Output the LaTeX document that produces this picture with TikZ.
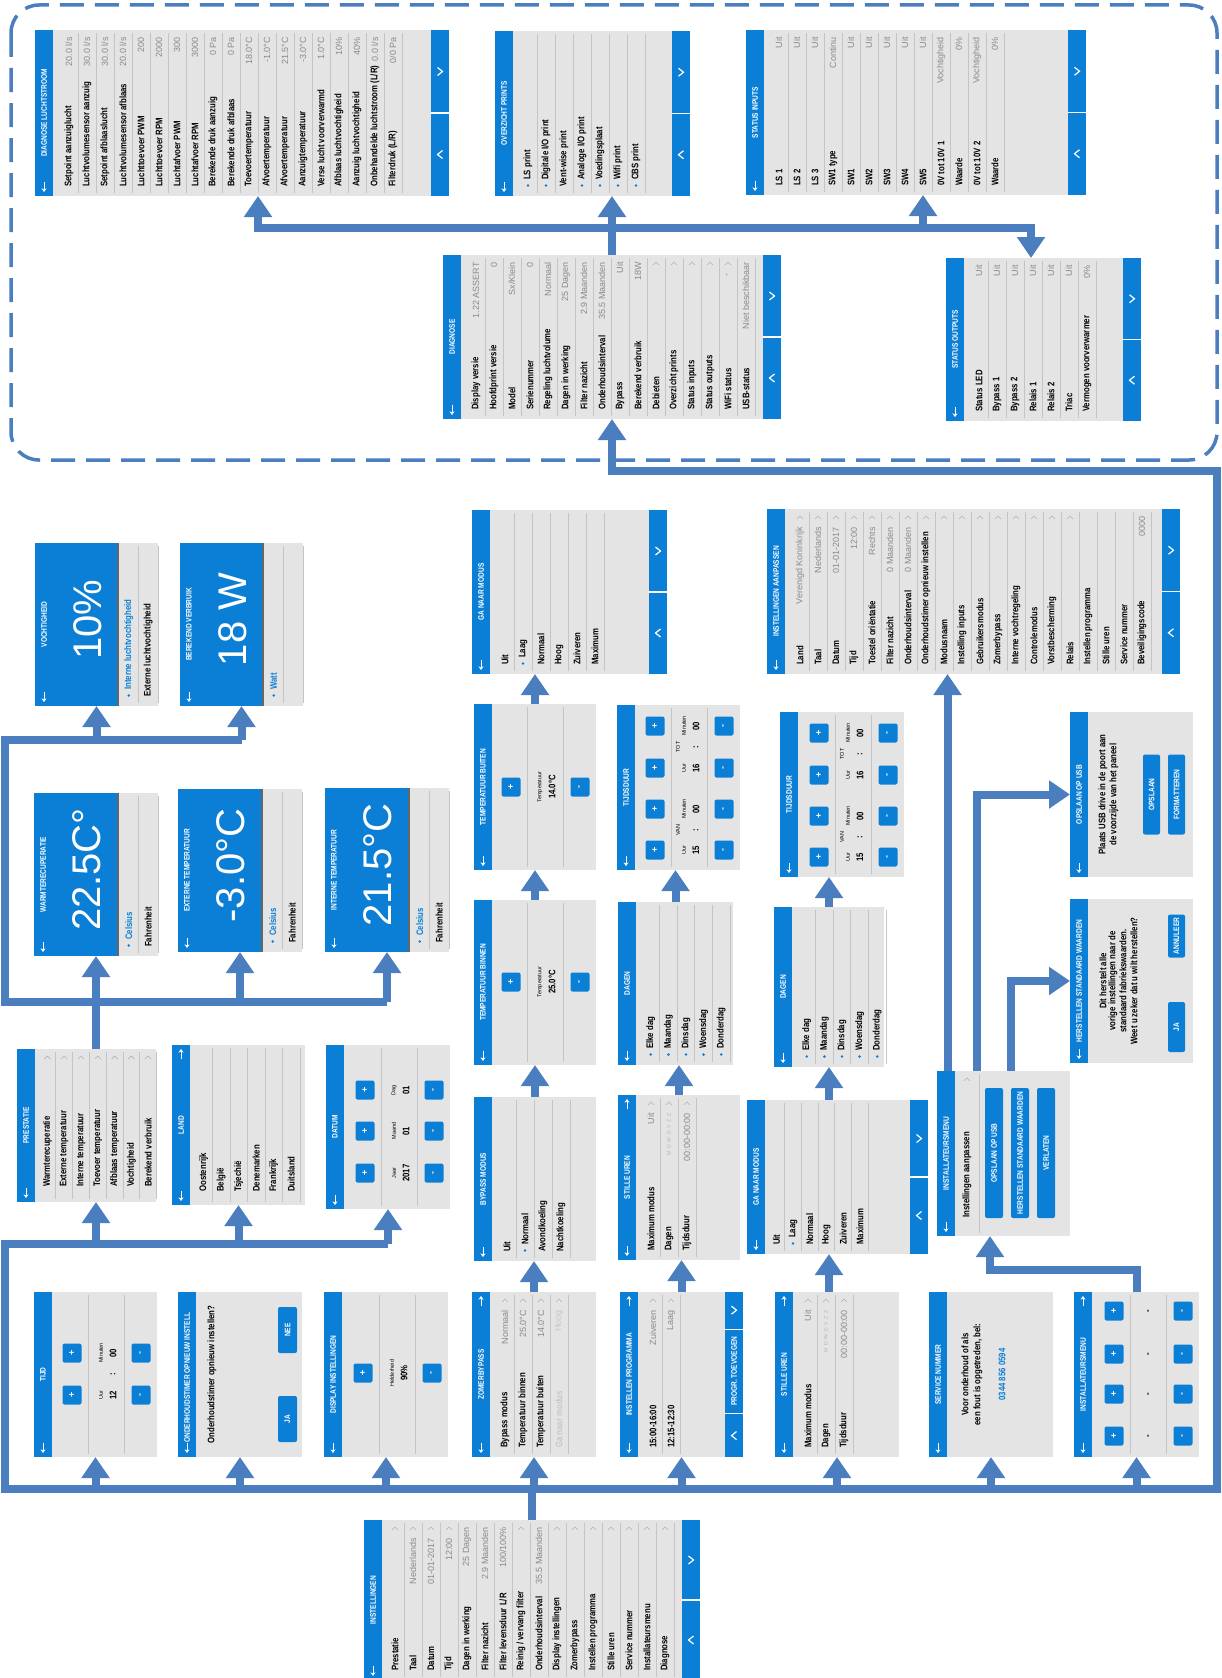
\documentclass[tikz,border=0pt]{standalone}
\usepackage{fontspec}
\setmainfont{Liberation Sans}
\newfontfamily\condfont{Liberation Sans}[FakeStretch=0.82]
\usetikzlibrary{arrows.meta}

\definecolor{scrblue}{HTML}{0B7FD5}
\definecolor{scrgrey}{HTML}{E4E4E4}
\definecolor{sepgrey}{HTML}{C4C4C4}
\definecolor{valgrey}{HTML}{8A8A8A}
\definecolor{linkblue}{HTML}{4A7EBF}

\tikzset{
  big/.tip={Triangle[width=27pt,length=21pt]},
  panel/.style={fill=scrgrey, inner sep=0pt, outer sep=0pt, anchor=north west},
  screen/.style={shift={(#1.south east)}, rotate=90, transform shape},
  ttl/.style={text=white, inner sep=0pt, font=\condfont\bfseries\fontsize{8}{9}\selectfont},
  lbl/.style={anchor=west, inner sep=0pt, font=\condfont\bfseries\fontsize{9.5}{10}\selectfont},
  val/.style={anchor=east, inner sep=0pt, text=valgrey, font=\fontsize{9}{10}\selectfont},
  chev/.style={draw=black!30, line width=0.6pt},
  small/.style={inner sep=0pt, font=\fontsize{5.5}{6}\selectfont},
  fig/.style={inner sep=0pt, font=\condfont\bfseries\fontsize{9.5}{10}\selectfont},
  msg/.style={inner sep=0pt, font=\condfont\bfseries\fontsize{9.5}{10}\selectfont},
  btn/.style={fill=scrblue, rounded corners=2pt, text=white, inner sep=0pt,
    minimum height=17pt, font=\condfont\bfseries\fontsize{8}{9}\selectfont},
  sq/.style={btn, minimum size=19pt, font=\bfseries\fontsize{9}{9}\selectfont},
  link/.style={draw=linkblue, line width=8pt},
  go/.style={link, -big},
}

\newcommand\labx{9}
\newcommand\dagletters{{\color{black!30}\fontsize{5}{5}\selectfont M\ \ D\ \ W\ \ D\ \ V\ \ Z\ \ Z}}
% one screen: name, left, top, right, bottom (pixels of the sheet)
\newcommand\screenat[5]{%
  \node[panel, minimum width=#4pt-#2pt, minimum height=#5pt-#3pt] (#1) at (#2,-#3) {};
  \pgfmathsetmacro\sL{#5-#3}\pgfmathsetmacro\sT{#4-#2}}
\newcommand\scrback[1]{\draw[white, line width=1pt, -{Stealth[length=3.6pt,width=5pt]}] (14,#1) -- (4,#1);}
\newcommand\scrfwd[1]{\draw[white, line width=1pt, -{Stealth[length=3.6pt,width=5pt]}] (\sL-14,#1) -- (\sL-4,#1);}
\newcommand\scrhead[2]{%
  \fill[scrblue] (0,\sT-18) rectangle (\sL,\sT);
  \node[ttl] at (\sL/2,\sT-9) {#1};
  \scrback{\sT-9}\ifnum#2=1 \scrfwd{\sT-9}\fi}
\newcommand\scrnav{%
  \fill[scrblue] (0,0) rectangle (\sL,18);
  \draw[white, line width=1.2pt] (\sL/2,0) -- (\sL/2,18);
  \draw[white, line width=1.2pt] (0.75*\sL-4,11.5) -- (0.75*\sL,6.5) -- (0.75*\sL+4,11.5)
    (0.25*\sL-4,6.5) -- (0.25*\sL,11.5) -- (0.25*\sL+4,6.5);}
\newcommand\scrbig[2]{%
  \fill[scrblue] (0,41) rectangle (\sL,\sT);
  \fill[black!60] (0,39) rectangle (\sL,41);
  \node[ttl] at (\sL/2,\sT-9) {#1};
  \scrback{\sT-9}
  \node[text=white, inner sep=0pt, font=\fontsize{40}{40}\selectfont] at (\sL/2+5,\sT-53) {#2};}
% rows: offset of first row, pitch, {label/value/flag}; flag 1 chevron, 2 dot, 4 dot+blue, 5 greyed
\newcommand\scrrows[3]{%
  \foreach \rl/\rv/\rf [count=\ri from 0] in {#3}{%
    \pgfmathsetmacro\rc{\sT-(#1)-(\ri+0.5)*(#2)}%
    \pgfmathsetmacro\rs{\rc-(#2)/2}%
    \def\rcol{black}\def\vcol{valgrey}%
    \ifnum\rf=4 \def\rcol{scrblue}\fi
    \ifnum\rf=5 \def\rcol{black!22}\def\vcol{black!22}\fi
    \draw[sepgrey, line width=0.8pt] (3,\rs) -- (\sL-3,\rs);
    \ifnum\rf>1 \ifnum\rf<5 \fill[scrblue] (\labx+1.5,\rc) circle (1.4pt);\fi\fi
    \pgfmathsetmacro\rx{(\rf>1 && \rf<5) ? \labx+7 : \labx}%
    \pgfmathsetmacro\vx{mod(\rf,2)==1 ? \sL-18 : \sL-7}%
    \node[lbl, text=\rcol] at (\rx,\rc) {\rl};
    \node[val, text=\vcol] at (\vx,\rc) {\rv};
    \ifodd\rf\relax \draw[chev] (\sL-10,\rc+3) -- (\sL-7,\rc) -- (\sL-10,\rc-3);\fi
  }}
\newcommand\scrseps{\draw[sepgrey, line width=0.8pt] (3,69) -- (\sL-3,69) (3,33) -- (\sL-3,33);}
\newcommand\scrbuttons[1]{\node[sq] at (#1,85) {+}; \node[sq] at (#1,16) {-};}
\newcommand\scrfield[3]{\node[small] at (#1,56) {#2}; \node[fig] at (#1,44) {#3};}
\newcommand\scrclock{%
  \scrhead{TIJDSDUUR}{0}\scrseps
  \foreach \bu in {20,61,102,144}{\scrbuttons{\bu}}
  \scrfield{20}{Uur}{15}\scrfield{61}{Minuten}{00}\scrfield{102}{Uur}{16}\scrfield{144}{Minuten}{00}
  \node[fig] at (40,44) {:}; \node[fig] at (123,44) {:};
  \node[small] at (40,62) {VAN}; \node[small] at (123,62) {TOT};}
\newcommand\scrquiet{%
  \scrhead{STILLE UREN}{1}
  \scrrows{24}{18}{Maximum modus/Uit/1, Dagen/\dagletters/1, Tijdsduur/00:00-00:00/1}}
\newcommand\scrdays{%
  \scrhead{DAGEN}{0}
  \scrrows{24}{17.6}{Elke dag//2, Maandag//2, Dinsdag//2, Woensdag//2, Donderdag//2}}
\newcommand\scrmodes{%
  \scrhead{GA NAAR MODUS}{0}\scrnav}

\begin{document}
\begin{tikzpicture}[x=1pt, y=1pt]
\useasboundingbox (0,0) rectangle (1222,-1678);
\draw[linkblue, line width=3.5pt, dash pattern=on 24pt off 11pt, rounded corners=28pt] (11,-5) rectangle (1217,-460);

\screenat{luchtstroom}{35}{30}{449}{196}
\begin{scope}[screen=luchtstroom]
  \scrhead{DIAGNOSE LUCHTSTROOM}{0}\scrnav
  \scrrows{25}{18}{Setpoint aanzuiglucht/{20.0 l/s}/0, Luchtvolumesensor aanzuig/{30.0 l/s}/0,
    Setpoint afblaaslucht/{30.0 l/s}/0, Luchtvolumesensor afblaas/{20.0 l/s}/0,
    Luchttoevoer PWM/200/0, Luchttoevoer RPM/2000/0, Luchtafvoer PWM/300/0, Luchtafvoer RPM/3000/0,
    Berekende druk aanzuig/0 Pa/0, Berekende druk afblaas/0 Pa/0, Toevoertemperatuur/18.0°C/0,
    Afvoertemperatuur/-1.0°C/0, Afvoertemperatuur/21.5°C/0, Aanzuigtemperatuur/-3.0°C/0,
    Verse lucht voorverwarmd/1.0°C/0, Afblaas luchtvochtigheid/10\%/0, Aanzuig luchtvochtigheid/40\%/0,
    {Onbehandelde luchtstroom (L/R)}/{0.0 l/s}/0, {Filterdruk (L/R)}/{0/0 Pa}/0}
\end{scope}

\screenat{prints}{495}{31}{690}{196}
\begin{scope}[screen=prints]
  \scrhead{OVERZICHT PRINTS}{0}\scrnav
  \scrrows{24}{18}{LS print//2, {Digitale I/O print}//2, Vent-wise print//0, {Analoge I/O print}//2,
    Voedingsplaat//2, Wifi print//2, CBS print//2}
\end{scope}

\screenat{inputs}{746}{30}{1086}{195}
\begin{scope}[screen=inputs]
  \scrhead{STATUS INPUTS}{0}\scrnav
  \scrrows{24}{18}{LS 1/Uit/0, LS 2/Uit/0, LS 3/Uit/0, SW1 type/Continu/0, SW1/Uit/0, SW2/Uit/0,
    SW3/Uit/0, SW4/Uit/0, SW5/Uit/0, 0V tot 10V 1/Vochtigheid/0, Waarde/0\%/0,
    0V tot 10V 2/Vochtigheid/0, Waarde/0\%/0}
\end{scope}

\screenat{diagnose}{443}{255}{781}{419}
\begin{scope}[screen=diagnose]
  \scrhead{DIAGNOSE}{0}\scrnav
  \scrrows{24}{18}{Display versie/1.22 ASSERT/0, Hoofdprint versie/0/0, Model/{Sx/Klein}/0,
    Serienummer/0/0, Regeling luchtvolume/Normaal/0, Dagen in werking/25 Dagen/0,
    Filter nazicht/2.9 Maanden/0, Onderhoudsinterval/35.5 Maanden/0, Bypass/Uit/0,
    Berekend verbruik/18W/0, Debieten//1, Overzicht prints//1, Status inputs//1,
    Status outputs//1, WiFi status/-/1, USB-status/Niet beschikbaar/0}
\end{scope}

\screenat{outputs}{946}{258}{1141}{421}
\begin{scope}[screen=outputs]
  \scrhead{STATUS OUTPUTS}{0}\scrnav
  \scrrows{24}{18}{Status LED/Uit/0, Bypass 1/Uit/0, Bypass 2/Uit/0, Relais 1/Uit/0,
    Relais 2/Uit/0, Triac/Uit/0, Vermogen voorverwarmer/0\%/0}
\end{scope}

\screenat{vocht}{35}{543}{158}{706}
\begin{scope}[screen=vocht]
  \scrbig{VOCHTIGHEID}{10\%}
  \scrrows{\sT-39}{19.5}{Interne luchtvochtigheid//4, Externe luchtvochtigheid//0}
\end{scope}

\screenat{verbruik}{180}{543}{303}{706}
\begin{scope}[screen=verbruik]
  \scrbig{BEREKEND VERBRUIK}{18 W}
  \scrrows{\sT-39}{19.5}{Watt//4, //0}
\end{scope}

\screenat{warmte}{34}{793}{158}{956}
\begin{scope}[screen=warmte]
  \scrbig{WARMTERECUPERATIE}{22.5C°}
  \scrrows{\sT-39}{19.5}{Celsius//4, Fahrenheit//0}
\end{scope}

\screenat{extern}{178}{789}{302}{952}
\begin{scope}[screen=extern]
  \scrbig{EXTERNE TEMPERATUUR}{-3.0°C}
  \scrrows{\sT-39}{19.5}{Celsius//4, Fahrenheit//0}
\end{scope}

\screenat{intern}{325}{788}{449}{952}
\begin{scope}[screen=intern]
  \scrbig{INTERNE TEMPERATUUR}{21.5°C}
  \scrrows{\sT-39}{19.5}{Celsius//4, Fahrenheit//0}
\end{scope}

\screenat{ganaar}{472}{510}{667}{674}
\begin{scope}[screen=ganaar]
  \scrmodes
  \scrrows{24}{18}{Uit//0, Laag//2, Normaal//0, Hoog//0, Zuiveren//0, Maximum//0}
\end{scope}

\screenat{aanpassen}{767}{509}{1180}{674}
\begin{scope}[screen=aanpassen]
  \scrhead{INSTELLINGEN AANPASSEN}{0}\scrnav
  \scrrows{24}{18}{Land/Verenigd Koninkrijk/1, Taal/Nederlands/1, Datum/01-01-2017/1, Tijd/12:00/1,
    Toestel oriëntatie/Rechts/1, Filter nazicht/0 Maanden/1, Onderhoudsinterval/0 Maanden/1,
    Onderhoudstimer opnieuw instellen//1, Modusnaam//1, Instelling inputs//1, Gebruikersmodus//1,
    Zomerbypass//1, Interne vochtregeling//1, Controlemodus//1, Vorstbescherming//1, Relais//1,
    Instellen programma//0, Stille uren//0, Service nummer//0, Beveiligingscode/0000/0}
\end{scope}

\screenat{tbuiten}{474}{704}{596}{870}
\begin{scope}[screen=tbuiten]
  \scrhead{TEMPERATUUR BUITEN}{0}\scrseps\scrbuttons{83}
  \scrfield{83}{Temperatuur}{14.0°C}
\end{scope}

\screenat{tbinnen}{474}{900}{596}{1065}
\begin{scope}[screen=tbinnen]
  \scrhead{TEMPERATUUR BINNEN}{0}\scrseps\scrbuttons{83}
  \scrfield{83}{Temperatuur}{25.0°C}
\end{scope}

\screenat{duur}{617}{705}{740}{870}
\begin{scope}[screen=duur]
  \scrclock
\end{scope}

\screenat{duurtwee}{780}{712}{904}{877}
\begin{scope}[screen=duurtwee]
  \scrclock
\end{scope}

\screenat{dagen}{618}{902}{733}{1065}
\begin{scope}[screen=dagen]
  \scrdays
\end{scope}

\screenat{dagentwee}{774}{907}{884}{1067}
\begin{scope}[screen=dagentwee]
  \scrdays
\end{scope}

\screenat{usb}{1070}{712}{1193}{877}
\begin{scope}[screen=usb]
  \scrhead{OPSLAAN OP USB}{0}
  \node[msg] at (\sL/2,90) {Plaats USB drive in de poort aan};
  \node[msg] at (\sL/2,79) {de voorzijde van het paneel};
  \node[btn, minimum width=80pt] at (\sL/2,41.5) {OPSLAAN};
  \node[btn, minimum width=80pt] at (\sL/2,16.5) {FORMATTEREN};
\end{scope}

\screenat{herstel}{1070}{899}{1193}{1063}
\begin{scope}[screen=herstel]
  \scrhead{HERSTELLEN STANDAARD WAARDEN}{0}
  \node[msg] at (\sL/2,90) {Dit herstelt alle};
  \node[msg] at (\sL/2,80) {vorige instellingen naar de};
  \node[msg] at (\sL/2,70) {standaard fabriekswaarden.};
  \node[msg] at (\sL/2,59) {Weet u zeker dat u wilt herstellen?};
  \node[btn, minimum width=50pt] at (36,16.5) {JA};
  \node[btn, minimum width=43pt] at (127,16.5) {ANNULEER};
\end{scope}

\screenat{prestatie}{17}{1049}{156}{1202}
\begin{scope}[screen=prestatie]
  \scrhead{PRESTATIE}{0}\renewcommand\labx{15}
  \scrrows{22}{16.8}{Warmterecuperatie//1, Externe temperatuur//1, Interne temperatuur//1,
    Toevoer temperatuur//1, Afblaas temperatuur//1, Vochtigheid//1, Berekend verbruik//1}
\end{scope}

\screenat{land}{172}{1045}{305}{1205}
\begin{scope}[screen=land]
  \scrhead{LAND}{1}\renewcommand\labx{13}
  \scrrows{23}{17.5}{Oostenrijk//0, België//0, Tsjechië//0, Denemarken//0, Frankrijk//0, Duitsland//0}
\end{scope}

\screenat{datum}{326}{1045}{450}{1209}
\begin{scope}[screen=datum]
  \scrhead{DATUM}{0}\scrseps
  \foreach \bu in {36,78,119}{\scrbuttons{\bu}}
  \scrfield{119}{Dag}{01}\scrfield{78}{Maand}{01}\scrfield{36}{Jaar}{2017}
\end{scope}

\screenat{bypass}{474}{1097}{596}{1261}
\begin{scope}[screen=bypass]
  \scrhead{BYPASS MODUS}{0}
  \scrrows{24}{18}{Uit//0, Normaal//2, Avondkoeling//0, Nachtkoeling//0}
\end{scope}

\screenat{stille}{618}{1095}{740}{1260}
\begin{scope}[screen=stille]
  \scrquiet
\end{scope}

\screenat{ganaartwee}{747}{1100}{928}{1254}
\begin{scope}[screen=ganaartwee]
  \scrmodes
  \scrrows{21}{16.7}{Uit//0, Laag//2, Normaal//0, Hoog//0, Zuiveren//0, Maximum//0}
\end{scope}

\screenat{installateur}{937}{1071}{1070}{1236}
\begin{scope}[screen=installateur]
  \scrhead{INSTALLATEURSMENU}{0}\renewcommand\labx{18}
  \scrrows{18}{24}{Instellingen aanpassen//1}
  \node[btn, minimum width=130pt, minimum height=18pt] at (83,76) {OPSLAAN OP USB};
  \node[btn, minimum width=130pt, minimum height=18pt] at (83,50) {HERSTELLEN STANDAARD WAARDEN};
  \node[btn, minimum width=130pt, minimum height=18pt] at (83,24) {VERLATEN};
\end{scope}

\screenat{tijd}{34}{1292}{157}{1457}
\begin{scope}[screen=tijd]
  \scrhead{TIJD}{0}\scrseps\scrbuttons{62}\scrbuttons{104}
  \scrfield{62}{Uur}{12}\scrfield{104}{Minuten}{00}
  \node[fig] at (83,44) {:};
\end{scope}

\screenat{timer}{178}{1292}{302}{1457}
\begin{scope}[screen=timer]
  \fill[scrblue] (0,\sT-18) rectangle (\sL,\sT);
  \scrback{\sT-9}
  \node[ttl, anchor=west] at (14,\sT-9) {ONDERHOUDSTIMER OPNIEUW INSTELL};
  \node[msg] at (\sL/2,90) {Onderhoudstimer opnieuw instellen?};
  \node[btn, minimum width=46pt, minimum height=19pt] at (127,14.5) {NEE};
  \node[btn, minimum width=46pt, minimum height=19pt] at (38,14.5) {JA};
\end{scope}

\screenat{display}{324}{1292}{448}{1457}
\begin{scope}[screen=display]
  \scrhead{DISPLAY INSTELLINGEN}{0}\scrseps\scrbuttons{84}
  \scrfield{84}{Helderheid}{90\%}
\end{scope}

\screenat{zomer}{472}{1292}{596}{1457}
\begin{scope}[screen=zomer]
  \scrhead{ZOMERBYPASS}{1}
  \scrrows{24}{18}{Bypass modus/Normaal/1, Temperatuur binnen/25.0°C/1,
    Temperatuur buiten/14.0°C/1, Ga naar modus/Hoog/5}
\end{scope}

\screenat{prog}{620}{1292}{743}{1457}
\begin{scope}[screen=prog]
  \scrhead{INSTELLEN PROGRAMMA}{1}
  \fill[scrblue] (0,0) rectangle (\sL,18);
  \draw[white, line width=1.2pt] (0.265*\sL,0) -- (0.265*\sL,18) (0.775*\sL,0) -- (0.775*\sL,18);
  \draw[white, line width=1.2pt] (0.89*\sL-4,11.5) -- (0.89*\sL,6.5) -- (0.89*\sL+4,11.5)
    (0.13*\sL-4,6.5) -- (0.13*\sL,11.5) -- (0.13*\sL+4,6.5);
  \node[ttl] at (0.52*\sL,9) {PROGR. TOEVOEGEN};
  \scrrows{24}{18}{15:00-16:00/Zuiveren/1, 12:15-12:30/Laag/1}
\end{scope}

\screenat{stilletwee}{775}{1292}{899}{1457}
\begin{scope}[screen=stilletwee]
  \scrquiet
\end{scope}

\screenat{service}{929}{1292}{1053}{1457}
\begin{scope}[screen=service]
  \scrhead{SERVICE NUMMER}{0}
  \node[msg] at (\sL/2,88) {Voor onderhoud of als};
  \node[msg] at (\sL/2,75) {een fout is opgetreden, bel:};
  \node[msg, text=scrblue] at (\sL/2,51) {0344 856 0594};
\end{scope}

\screenat{installateurtwee}{1074}{1292}{1199}{1457}
\begin{scope}[screen=installateurtwee]
  \scrhead{INSTALLATEURSMENU}{1}\scrseps
  \foreach \bu in {21,63,103,146}{\scrbuttons{\bu}\node[fig] at (\bu,50) {-};}
\end{scope}

\screenat{instellingen}{364}{1520}{700}{1680}
\begin{scope}[screen=instellingen]
  \scrhead{INSTELLINGEN}{0}\scrnav
  \scrrows{22}{18}{Prestatie//1, Taal/Nederlands/1, Datum/01-01-2017/1, Tijd/12:00/1,
    Dagen in werking/25 Dagen/0, Filter nazicht/2.9 Maanden/0, {Filter levensduur L/R}/{100/100\%}/0,
    {Reinig / vervang filter}//1, Onderhoudsinterval/35.5 Maanden/0, Display instellingen//1,
    Zomerbypass//1, Instellen programma//1, Stille uren//1, Service nummer//1,
    Installateursmenu//1, Diagnose//1}
\end{scope}

\coordinate (bl) at (5,-1489);
\coordinate (br) at (1217,-1489);
\coordinate (ml) at (5,-1244);
\coordinate (tr) at (1217,-471);
\coordinate (lp) at (5,-1002);
\coordinate (lt) at (5,-740);
\coordinate (tl) at (258,-228);
\coordinate (tt) at (1031,-228);
\coordinate (ik) at (990,-1270);
\coordinate (k1) at ([xshift=-56pt]installateur.north);
\coordinate (k2) at ([xshift=-27pt]installateur.north);
\coordinate (k3) at ([xshift=7pt]installateur.north);

\draw[link] (instellingen.north) -- (instellingen.north |- bl);
\draw[go] (ml -| datum.south) -- (ml) -- (bl) -- (br) -- (tr) -| (diagnose.south);
\foreach \n in {tijd, timer, display, zomer, prog, stilletwee, service, installateurtwee}
  \draw[go] (\n.south |- bl) -- (\n.south);
\foreach \n in {land, datum}
  \draw[go] (\n.south |- ml) -- (\n.south);
\draw[go] (warmte.south |- ml) -- (warmte.south |- prestatie.south);
\draw[go] (warmte.south |- prestatie.north) -- (warmte.south);
\draw[link] (lt -| verbruik.south) -- (lt) -- (lp) -- (lp -| intern.south);
\foreach \n in {extern, intern}
  \draw[go] (\n.south |- lp) -- (\n.south);
\foreach \n in {vocht, verbruik}
  \draw[go] (\n.south |- lt) -- (\n.south);
\foreach \a/\b in {zomer/bypass, bypass/tbinnen, tbinnen/tbuiten, tbuiten/ganaar,
                   prog/stille, stille/dagen, dagen/duur}
  \draw[go] (\a.north) -- (\a.north |- \b.south);
\draw[go] (dagentwee.south |- stilletwee.north) -- (dagentwee.south |- ganaartwee.south);
\draw[go] (dagentwee.south |- ganaartwee.north) -- (dagentwee.south);
\draw[go] (dagentwee.north) -- (dagentwee.north |- duurtwee.south);
\draw[go] (installateurtwee.north) |- (ik) -- (ik |- installateur.south);
\draw[go] (k1) -- (k1 |- aanpassen.south);
\draw[go] (k2) |- (usb.west);
\draw[go] (k3) |- (herstel.west);
\draw[go] (diagnose.north) -- (diagnose.north |- prints.south);
\draw[link, big-big] (tl |- luchtstroom.south) -- (tl) -- (tt) -- (tt |- outputs.north);
\draw[go] ([xshift=7pt]inputs.south |- tl) -- ([xshift=7pt]inputs.south);
\end{tikzpicture}
\end{document}
